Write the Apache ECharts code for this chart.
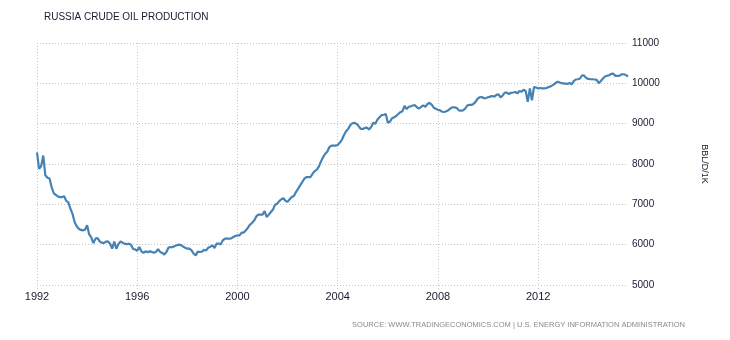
<!DOCTYPE html>
<html>
<head>
<meta charset="utf-8">
<script src="https://cdn.jsdelivr.net/npm/echarts@6/dist/echarts.min.js"></script>
<style>
  html, body { margin: 0; padding: 0; background: #fff; }
  #chart { width: 730px; height: 340px; }
</style>
</head>
<body>
<div id="chart"></div>
<script>
// Russia crude oil production, thousand barrels per day, monthly from Jan 1992
var startYear = 1992;
var production = [
  // 1992
  8290, 7880, 7950, 8210, 7720, 7660, 7640, 7430, 7275, 7235, 7195, 7180,
  // 1993
  7180, 7200, 7085, 7050, 6890, 6765, 6560, 6455, 6395, 6365, 6355, 6370,
  // 1994
  6480, 6255, 6180, 6035, 6150, 6165, 6080, 6050, 6040, 6075, 6080, 6025,
  // 1995
  5900, 6080, 5900, 6015, 6080, 6050, 6025, 6010, 6025, 6000, 5893, 5885,
  // 1996
  5850, 5940, 5835, 5800, 5835, 5810, 5835, 5820, 5800, 5825, 5885, 5820,
  // 1997
  5795, 5755, 5820, 5930, 5940, 5940, 5965, 5985, 6000, 5990, 5950, 5925,
  // 1998
  5900, 5900, 5860, 5780, 5735, 5827, 5818, 5827, 5870, 5860, 5925, 5950,
  // 1999
  5983, 5917, 6025, 6025, 6008, 6107, 6150, 6150, 6150, 6157, 6190, 6215,
  // 2000
  6230, 6230, 6300, 6300, 6355, 6420, 6495, 6545, 6600, 6700, 6745, 6745,
  // 2001
  6745, 6835, 6685, 6745, 6810, 6870, 6990, 7015, 7080, 7125, 7150, 7085,
  // 2002
  7065, 7125, 7180, 7205, 7305, 7385, 7470, 7550, 7635, 7677, 7677, 7677,
  // 2003
  7760, 7825, 7860, 7940, 8065, 8170, 8255, 8305, 8420, 8455, 8455, 8455,
  // 2004
  8470, 8530, 8600, 8720, 8814, 8870, 8960, 9010, 9020, 8995, 8940, 8870,
  // 2005
  8870, 8895, 8900, 8856, 8915, 9020, 9000, 9100, 9160, 9210, 9220, 9237,
  // 2006
  9025, 9050, 9135, 9160, 9190, 9240, 9285, 9310, 9440, 9360, 9420, 9430,
  // 2007
  9450, 9460, 9400, 9375, 9420, 9455, 9420, 9490, 9516, 9470, 9395, 9370,
  // 2008
  9345, 9330, 9295, 9290, 9310, 9335, 9380, 9405, 9405, 9390, 9330, 9322,
  // 2009
  9330, 9370, 9450, 9465, 9465, 9490, 9540, 9620, 9655, 9660, 9630, 9635,
  // 2010
  9655, 9670, 9685, 9670, 9715, 9725, 9650, 9700, 9770, 9770, 9735, 9765,
  // 2011
  9773, 9785, 9750, 9810, 9790, 9840, 9810, 9540, 9874, 9580, 9910, 9895,
  // 2012
  9874, 9885, 9874, 9874, 9885, 9910, 9925, 9955, 9995, 10035, 10030, 10005,
  // 2013
  10000, 9995, 9985, 10010, 9975, 10055, 10095, 10101, 10120, 10200, 10190, 10135,
  // 2014
  10110, 10101, 10101, 10095, 10084, 10005, 10060, 10120, 10170, 10190, 10200, 10235,
  // 2015
  10240, 10185, 10185, 10190, 10225, 10225, 10205, 10170
];
var yTicks = [5000, 6000, 7000, 8000, 9000, 10000, 11000];
var labelEveryYears = 4;

// month categories "YYYY-MM"
var months = [];
for (var i = 0; i < production.length; i++) {
  var y = startYear + Math.floor(i / 12);
  var mo = (i % 12) + 1;
  months.push(y + '-' + (mo < 10 ? '0' : '') + mo);
}

function isYearMark(idx) {
  return idx % (12 * labelEveryYears) === 0;
}

var chart = echarts.init(document.getElementById('chart'), null, { renderer: 'canvas' });
var gridStyle = { color: '#c8c8c8', type: [1, 2], width: 1 };

chart.setOption({
  animation: false,
  backgroundColor: '#ffffff',
  title: {
    text: 'RUSSIA CRUDE OIL PRODUCTION',
    left: 39,
    top: 7,
    textStyle: {
      fontFamily: 'Liberation Sans',
      fontSize: 10,
      fontWeight: 'normal',
      color: '#1a1a2e'
    }
  },
  graphic: [{
    type: 'text',
    right: 45,
    top: 321,
    style: {
      text: 'SOURCE: WWW.TRADINGECONOMICS.COM | U.S. ENERGY INFORMATION ADMINISTRATION',
      fontFamily: 'Liberation Sans',
      fontSize: 7.5,
      fill: '#8a8a8a'
    }
  }],
  grid: { left: 37, right: 102, top: 43, bottom: 55, containLabel: false },
  xAxis: {
    type: 'category',
    data: months,
    boundaryGap: false,
    axisLine: { show: false },
    axisTick: { show: true, length: 4, interval: function (idx) { return isYearMark(idx); }, lineStyle: gridStyle },
    axisLabel: {
      interval: function (idx) { return isYearMark(idx); },
      formatter: function (v) { return v.slice(0, 4); },
      fontFamily: 'Liberation Sans',
      fontSize: 11,
      color: '#1a1a2e',
      margin: 6
    },
    splitLine: { show: true, interval: function (idx) { return isYearMark(idx); }, lineStyle: gridStyle }
  },
  yAxis: {
    type: 'value',
    position: 'right',
    min: yTicks[0],
    max: yTicks[yTicks.length - 1],
    interval: 1000,
    name: 'BBL/D/1K',
    nameLocation: 'middle',
    nameRotate: -90,
    nameGap: 72,
    nameTextStyle: { fontFamily: 'Liberation Sans', fontSize: 9, color: '#1a1a2e', padding: [0, 0, 0, 0] },
    axisLine: { show: false },
    axisTick: { show: false },
    axisLabel: {
      formatter: function (v) { return String(v); },
      fontFamily: 'Liberation Sans',
      fontSize: 10,
      color: '#1a1a2e',
      margin: 4
    },
    splitLine: { show: true, lineStyle: gridStyle }
  },
  series: [{
    type: 'line',
    data: production,
    showSymbol: false,
    smooth: false,
    lineStyle: { color: '#4682b4', width: 2.2 },
    itemStyle: { color: '#4682b4' }
  }]
});
</script>
</body>
</html>
